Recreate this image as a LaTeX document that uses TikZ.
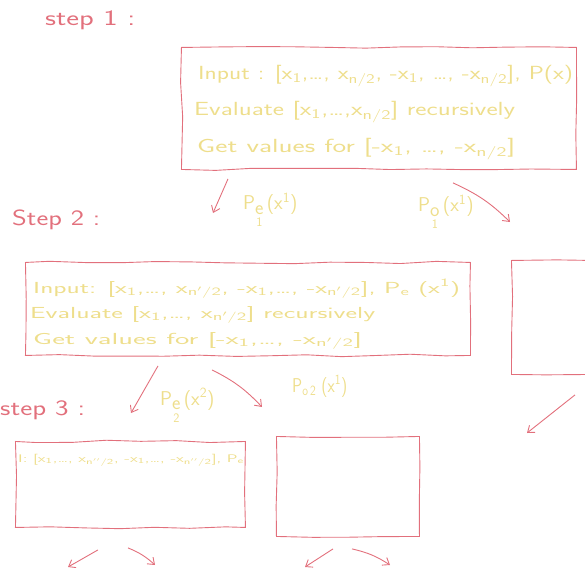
\documentclass[tikz,border=0pt]{standalone}
\usetikzlibrary{arrows.meta,decorations.pathmorphing,calc}
\definecolor{pen}{RGB}{226,112,124}
\definecolor{hl}{RGB}{238,222,140}
\newcommand\sbs[1]{\textsubscript{#1}}
\newcommand\sps[1]{\textsuperscript{#1}}
\newcommand\wfit[2]{\resizebox{#1}{\height}{#2}}
\newcommand\Plab[3]{P\raisebox{-0.85em}{\shortstack{#1\\[1pt]\scalebox{0.65}{#2}}}\,(x\sps{#3})}
\tikzset{
  box/.style={draw=pen, line width=0.9pt, inner sep=0pt, anchor=north west,
    decorate, decoration={random steps, segment length=35pt, amplitude=1.3pt}},
  steplbl/.style={text=pen, font=\sffamily\fontsize{22}{24}\selectfont, anchor=west, inner sep=0pt},
  txtA/.style={text=hl, font=\sffamily\fontsize{19}{21}\selectfont, anchor=west, inner sep=0pt},
  txtB/.style={text=hl, font=\sffamily\fontsize{16}{18}\selectfont, anchor=west, inner sep=0pt},
  txtC/.style={text=hl, font=\sffamily\fontsize{11}{12}\selectfont, anchor=west, inner sep=0pt},
  lbl/.style={text=hl, font=\sffamily\fontsize{20}{22}\selectfont, anchor=west, inner sep=0pt},
  arr/.style={draw=pen, line width=0.9pt, -{Straight Barb[length=6pt,width=9pt]}},
}
\begin{document}
\begin{tikzpicture}[x=1pt,y=-1pt]
\useasboundingbox (0,0) rectangle (585,567);
% step labels
\node[steplbl] (s1) at (45,20) {\wfit{90pt}{step 1 :}};
\node[steplbl] (s2) at (12,220) {\wfit{88pt}{Step 2 :}};
\node[steplbl] (s3) at (0,410) {\wfit{85pt}{step 3 :}};
% box 1
\node[box, minimum width=395, minimum height=122] (b1) at (181,47) {};
\node[txtA] (t1a) at (198,76) {\wfit{375pt}{Input : [x\sbs{1},\dots, x\sbs{n/2}, -x\sbs{1}, \dots, -x\sbs{n/2}], P(x)}};
\node[txtA] (t1b) at (194,112) {\wfit{321pt}{Evaluate [x\sbs{1},\dots,x\sbs{n/2}] recursively}};
\node[txtA] (t1c) at (197,149) {\wfit{318pt}{Get values for [-x\sbs{1}, \dots, -x\sbs{n/2}]}};
% box 2
\node[box, minimum width=445, minimum height=93] (b2) at (25,262) {};
\node[txtB] (t2a) at (33,289) {\wfit{427pt}{Input: [x\sbs{1},\dots, x\sbs{n$'$/2}, -x\sbs{1},\dots, -x\sbs{n$'$/2}], P\sbs{e} (x\sps{1})}};
\node[txtB] (t2b) at (30,315) {\wfit{345pt}{Evaluate [x\sbs{1},\dots, x\sbs{n$'$/2}] recursively}};
\node[txtB] (t2c) at (33,341) {\wfit{329pt}{Get values for [-x\sbs{1},\dots, -x\sbs{n$'$/2}]}};
% partial box right
\node[box, minimum width=80, minimum height=114] (b2r) at (511,260) {};
% box 3
\node[box, minimum width=230, minimum height=86] (b3) at (15,441) {};
\node[txtC] (t3a) at (18,460) {\wfit{226pt}{I: [x\sbs{1},\dots, x\sbs{n$''$/2}, -x\sbs{1},\dots, -x\sbs{n$''$/2}], P\sbs{e}}};
% box 4
\node[box, minimum width=143, minimum height=100] (b4) at (276,436) {};
% labels on arrows
\node[lbl] (p1) at (243,210) {\Plab{e}{1}{1}};
\node[lbl] (p2) at (418,212) {\Plab{o}{1}{1}};
\node[lbl] (p3) at (160,405) {\Plab{e}{2}{2}};
\node[lbl] (p4) at (292,386) {\wfit{55pt}{P\sbs{o\,2} (x\sps{1})}};
% arrow ends
\coordinate (e1) at (213,213);
\coordinate (e2) at (510,222);
\coordinate (e3) at (131,413);
\coordinate (e4) at (262,407);
\coordinate (e5) at (527,433);
\coordinate (e6) at (68,567);
\coordinate (e7) at (155,565);
\coordinate (e8) at (305,567);
\coordinate (e9) at (390,565);
% arrows
\draw[arr] ($(b1.south west)+(47,9)$) -- (e1);
\draw[arr] ($(b1.south west)+(272,13)$) to[bend left=10] (e2);
\draw[arr] ($(b2.south west)+(133,10)$) -- (e3);
\draw[arr] ($(b2.south west)+(187,14)$) to[bend left=10] (e4);
\draw[arr] ($(b2r.south west)+(64,20)$) -- (e5);
\draw[arr] ($(b3.south west)+(83,22)$) -- (e6);
\draw[arr] ($(b3.south west)+(113,20)$) to[bend left=10] (e7);
\draw[arr] ($(b4.south west)+(57,12)$) -- (e8);
\draw[arr] ($(b4.south west)+(76,12)$) to[bend left=10] (e9);
\end{tikzpicture}
\end{document}
